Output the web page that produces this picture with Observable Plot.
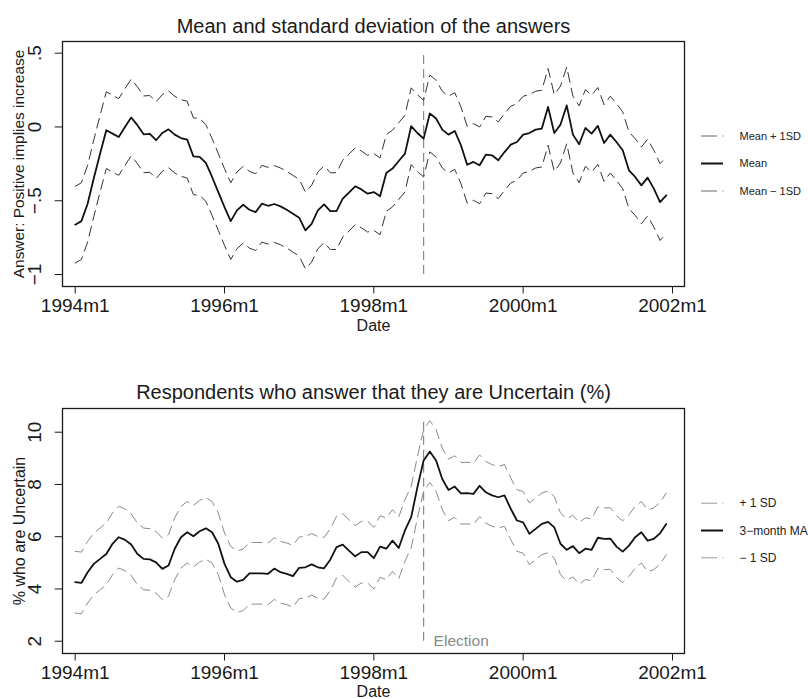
<!DOCTYPE html>
<html>
<head>
<meta charset="utf-8">
<script src="https://cdn.jsdelivr.net/npm/d3@7"></script>
<script src="https://cdn.jsdelivr.net/npm/@observablehq/plot@0.6"></script>
<style>
  html, body { margin: 0; padding: 0; background: #fff; }
  #chart { width: 808px; height: 699px; }
  #chart svg { display: block; }
</style>
</head>
<body>
<div id="chart"></div>
<script>
// ---- Data (monthly, 1994m1 .. 2001m12; index 0 = 1994m1) ----
const xTickIndex = [0, 24, 48, 72, 96];
const xTickLabels = ["1994m1", "1996m1", "1998m1", "2000m1", "2002m1"];
const electionIndex = 56; // 1998m9

// Panel 1: mean of the answers
const answerMean = [
  -0.662, -0.638, -0.520, -0.346, -0.181, -0.022, -0.045, -0.068, 0.000, 0.064,
   0.012, -0.050, -0.047, -0.090, -0.041, -0.016, -0.052, -0.075, -0.086, -0.199,
  -0.203, -0.244, -0.339, -0.441, -0.543, -0.638, -0.565, -0.527, -0.561, -0.577,
  -0.520, -0.534, -0.522, -0.538, -0.561, -0.588, -0.615, -0.701, -0.656, -0.565,
  -0.524, -0.570, -0.570, -0.486, -0.445, -0.402, -0.423, -0.452, -0.441, -0.470,
  -0.312, -0.282, -0.231, -0.181, 0.005, -0.041, -0.079, 0.091, 0.057, -0.018,
  -0.052, -0.027, -0.124, -0.256, -0.237, -0.260, -0.188, -0.192, -0.226, -0.170,
  -0.120, -0.102, -0.052, -0.041, -0.018, -0.011, 0.136, -0.041, 0.016, 0.146,
  -0.052, -0.117, -0.007, -0.045, 0.007, -0.109, -0.052, -0.102, -0.158, -0.294,
  -0.339, -0.396, -0.343, -0.418, -0.509, -0.464
];
const answerSD = 0.26;
const answerYTicks = [-1, -0.5, 0, 0.5];
const answerYLabels = ["\u22121", "\u2212.5", "0", ".5"];

// Panel 2: % uncertain, 3-month moving average
const uncertainMA = [
  4.26, 4.23, 4.64, 4.96, 5.15, 5.34, 5.73, 5.98, 5.88, 5.70,
  5.34, 5.15, 5.13, 5.02, 4.77, 4.90, 5.54, 5.98, 6.17, 6.02,
  6.21, 6.32, 6.17, 5.73, 4.96, 4.45, 4.28, 4.35, 4.60, 4.60,
  4.60, 4.58, 4.78, 4.64, 4.58, 4.49, 4.81, 4.83, 4.94, 4.83,
  4.79, 5.12, 5.60, 5.70, 5.47, 5.25, 5.41, 5.41, 5.18, 5.62,
  5.54, 5.85, 5.57, 6.24, 6.75, 7.89, 8.92, 9.26, 8.92, 8.21,
  7.79, 7.92, 7.66, 7.67, 7.64, 7.95, 7.70, 7.58, 7.51, 7.58,
  7.07, 6.62, 6.55, 6.11, 6.30, 6.49, 6.57, 6.36, 5.73, 5.50,
  5.64, 5.37, 5.54, 5.50, 5.96, 5.92, 5.93, 5.62, 5.43, 5.66,
  5.98, 6.17, 5.85, 5.92, 6.13, 6.49
];
const uncertainSD = 1.18;
const uncertainYTicks = [2, 4, 6, 8, 10];
const uncertainYLabels = ["2", "4", "6", "8", "10"];

const FONT = "'Liberation Sans', Arial, Helvetica, sans-serif";

function panel(o) {
  const data = o.mean.map((m, i) => ({t: i, m, hi: m + o.sd, lo: m - o.sd}));
  const elec = [{t: electionIndex, y1: o.elecRange[0], y2: o.elecRange[1]}];
  const plot = Plot.plot({
    width: 808,
    height: o.height,
    marginLeft: 62,
    marginRight: 124,
    marginTop: o.marginTop,
    marginBottom: o.marginBottom,
    style: {fontFamily: FONT, color: "#1a1a1a", background: "white", overflow: "visible"},
    x: {type: "linear", domain: [-2.04, 97.93], axis: null},
    y: {domain: o.yDomain, axis: null},
    marks: [
      Plot.ruleX(elec, {x: "t", y1: "y1", y2: "y2", stroke: "#8a8a8a", strokeWidth: 1.2, strokeDasharray: "9,5"}),
      o.elecLabel ? Plot.text(elec, {x: "t", y: "y1", text: () => o.elecLabel, dx: 10, textAnchor: "start", lineAnchor: "middle", fill: "#8a8a8a", fontSize: 15.5}) : null,
      Plot.line(data, {x: "t", y: "hi", stroke: o.bandColor, strokeWidth: 1, strokeDasharray: "10,6"}),
      Plot.line(data, {x: "t", y: "lo", stroke: o.bandColor, strokeWidth: 1, strokeDasharray: "10,6"}),
      Plot.line(data, {x: "t", y: "m", stroke: "#111", strokeWidth: 1.8}),
      Plot.frame({stroke: "#1a1a1a", strokeWidth: 1.3}),
      Plot.axisX({ticks: xTickIndex, tickSize: 7.5, tickPadding: 4, fontSize: 19, label: null,
        tickFormat: d => xTickLabels[xTickIndex.indexOf(d)]}),
      Plot.axisY({ticks: o.yTicks, tickSize: 7.3, tickRotate: -90, tickPadding: 14, fontSize: 19, label: null,
        tickFormat: d => o.yLabels[o.yTicks.indexOf(d)]}),
      Plot.text([o.title], {text: d => d, frameAnchor: "top", dy: o.titleDy, fontSize: 20,
        textAnchor: "middle", lineAnchor: "middle"}),
      Plot.text(["Date"], {text: d => d, frameAnchor: "bottom", dy: o.dateDy, fontSize: 16,
        textAnchor: "middle", lineAnchor: "middle"}),
      Plot.text([o.yTitle], {text: d => d, frameAnchor: "left", dx: -43, rotate: -90, fontSize: o.yTitleSize,
        textAnchor: "middle", lineAnchor: "middle"})
    ]
  });

  // Legend at the right of the frame
  const svg = d3.select(plot);
  const center = o.marginTop + (o.height - o.marginTop - o.marginBottom) / 2;
  const g = svg.append("g")
    .attr("font-family", FONT).attr("font-size", o.legendSize).attr("fill", "#222")
    .attr("text-anchor", "start");
  o.legend.forEach((it, k) => {
    const y = center + (k - 1) * o.legendStep;
    g.append("line")
      .attr("x1", 701).attr("x2", it.dash ? 724 : 723)
      .attr("y1", y).attr("y2", y)
      .attr("stroke", it.color).attr("stroke-width", it.width)
      .attr("stroke-dasharray", it.dash || null);
    g.append("text").attr("x", 739.5).attr("y", y).attr("dy", "0.35em")
      .attr("text-anchor", "start").text(it.label);
  });
  return plot;
}

const root = document.getElementById("chart");

root.appendChild(panel({
  mean: answerMean, sd: answerSD,
  height: 350, marginTop: 41, marginBottom: 64,
  yDomain: [-1.081, 0.579],
  yTicks: answerYTicks, yLabels: answerYLabels,
  elecRange: [-1, 0.5], elecLabel: null,
  bandColor: "#333",
  title: "Mean and standard deviation of the answers", titleDy: -15.4,
  dateDy: 39.5,
  yTitle: "Answer: Positive implies increase", yTitleSize: 15.4,
  legendSize: 11, legendStep: 27.5,
  legend: [
    {label: "Mean + 1SD", color: "#666", width: 1, dash: "16,5.5,1,10"},
    {label: "Mean", color: "#111", width: 2},
    {label: "Mean \u2212 1SD", color: "#666", width: 1, dash: "16,5.5,1,10"}
  ]
}));

root.appendChild(panel({
  mean: uncertainMA, sd: uncertainSD,
  height: 349, marginTop: 58, marginBottom: 46,
  yDomain: [1.53, 10.907],
  yTicks: uncertainYTicks, yLabels: uncertainYLabels,
  elecRange: [2, 10.45], elecLabel: "Election",
  bandColor: "#8a8a8a",
  title: "Respondents who answer that they are Uncertain (%)", titleDy: -16,
  dateDy: 38,
  yTitle: "% who are Uncertain", yTitleSize: 16,
  legendSize: 12, legendStep: 27.3,
  legend: [
    {label: "+ 1 SD", color: "#999", width: 1, dash: "16,5.5,1,10"},
    {label: "3\u2212month MA", color: "#111", width: 2},
    {label: "\u2212 1 SD", color: "#999", width: 1, dash: "16,5.5,1,10"}
  ]
}));
</script>
</body>
</html>
